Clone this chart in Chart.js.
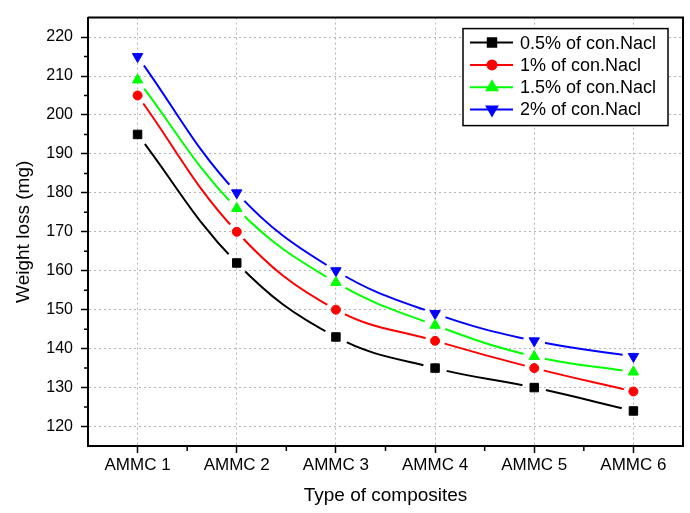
<!DOCTYPE html>
<html>
<head>
<meta charset="utf-8">
<script src="https://cdn.jsdelivr.net/npm/chart.js@4/dist/chart.umd.min.js"></script>
<style>
  html, body { margin: 0; padding: 0; background: #fff; }
  #wrap { width: 690px; height: 513px; position: relative; }
</style>
</head>
<body>
<div id="wrap"><canvas id="weightChart"></canvas></div>
<script>
"use strict";
const FONT = "'Liberation Sans', Arial, sans-serif";

const categories = ["AMMC 1", "AMMC 2", "AMMC 3", "AMMC 4", "AMMC 5", "AMMC 6"];
const seriesLabels = [
  "0.5% of con.Nacl",
  "1% of con.Nacl",
  "1.5% of con.Nacl",
  "2% of con.Nacl",
];
const nacl05 = [195, 162, 143, 135, 130, 124];
const nacl1 = [205, 170, 150, 142, 135, 129];
const nacl15 = [209, 176, 157, 146, 138, 134];
const nacl2 = [215, 180, 160, 149, 142, 138];
const yTicks = [120, 130, 140, 150, 160, 170, 180, 190, 200, 210, 220];
const yMinorTicks = [125, 135, 145, 155, 165, 175, 185, 195, 205, 215];

const colors = ["#000000", "#ff0000", "#00ff00", "#0000ff"];
const markers = [
  { style: "rect", radius: 6, rotation: 0, gap: 12 },
  { style: "circle", radius: 4.5, rotation: 0, gap: 10 },
  { style: "triangle", radius: 6, rotation: 0, gap: 11 },
  { style: "triangle", radius: 6, rotation: 180, gap: 11 },
];
const allSeries = [nacl05, nacl1, nacl15, nacl2];

// points first so they sit on top of the lines
const datasets = [];
allSeries.forEach((data, i) => {
  datasets.push({
    label: seriesLabels[i],
    data: data,
    showLine: false,
    pointStyle: markers[i].style,
    pointRadius: markers[i].radius,
    pointRotation: markers[i].rotation,
    pointBackgroundColor: colors[i],
    pointBorderColor: colors[i],
    pointBorderWidth: 1,
  });
});
allSeries.forEach((data, i) => {
  datasets.push({
    label: seriesLabels[i] + " line",
    data: data,
    borderColor: colors[i],
    borderWidth: 2,
    tension: 0.4,
    pointRadius: 0,
    pointHoverRadius: 0,
    fill: false,
    gapRadius: markers[i].gap,
  });
});

// Origin-style break in the line around each marker
const lineGaps = {
  id: "lineGaps",
  beforeDatasetDraw(chart, args) {
    const ds = chart.data.datasets[args.index];
    if (!ds.gapRadius) return;
    const ctx = chart.ctx;
    ctx.save();
    ctx.beginPath();
    ctx.rect(0, 0, chart.width, chart.height);
    args.meta.data.forEach((pt) => {
      ctx.moveTo(pt.x + ds.gapRadius, pt.y);
      ctx.arc(pt.x, pt.y, ds.gapRadius, 0, Math.PI * 2);
    });
    ctx.clip("evenodd");
  },
  afterDatasetDraw(chart, args) {
    const ds = chart.data.datasets[args.index];
    if (!ds.gapRadius) return;
    chart.ctx.restore();
  },
};

const frameAndLegend = {
  id: "frameAndLegend",
  afterDraw(chart) {
    const ctx = chart.ctx;
    const area = chart.chartArea;
    const xs = chart.scales.x;
    const ys = chart.scales.y;
    ctx.save();
    // top / right frame
    ctx.strokeStyle = "#000";
    ctx.lineWidth = 2;
    ctx.beginPath();
    ctx.moveTo(area.left, area.top);
    ctx.lineTo(area.right, area.top);
    ctx.lineTo(area.right, area.bottom);
    ctx.stroke();

    // minor ticks
    ctx.lineWidth = 1.5;
    ctx.beginPath();
    yMinorTicks.forEach((v) => {
      const y = ys.getPixelForValue(v);
      ctx.moveTo(area.left, y);
      ctx.lineTo(area.left - 4, y);
    });
    for (let i = 0; i < categories.length - 1; i++) {
      const x = xs.getPixelForValue(i + 0.5);
      ctx.moveTo(x, area.bottom);
      ctx.lineTo(x, area.bottom + 5);
    }
    ctx.stroke();

    // legend box
    const bw = 205;
    const bh = 97;
    const bx = area.right - 15 - bw;
    const by = area.top + 11;
    ctx.fillStyle = "#fff";
    ctx.fillRect(bx, by, bw, bh);
    ctx.strokeStyle = "#000";
    ctx.lineWidth = 1.5;
    ctx.strokeRect(bx, by, bw, bh);
    ctx.font = "18px " + FONT;
    ctx.textBaseline = "middle";
    ctx.textAlign = "left";
    seriesLabels.forEach((label, i) => {
      const y = by + 14 + i * 22.3;
      ctx.strokeStyle = colors[i];
      ctx.fillStyle = colors[i];
      ctx.lineWidth = 2;
      ctx.beginPath();
      ctx.moveTo(bx + 7, y);
      ctx.lineTo(bx + 50, y);
      ctx.stroke();
      Chart.helpers.drawPoint(
        ctx,
        {
          pointStyle: markers[i].style,
          rotation: markers[i].rotation,
          radius: markers[i].radius,
          borderWidth: 1,
        },
        bx + 29,
        y
      );
      ctx.fillStyle = "#000";
      ctx.fillText(label, bx + 57, y + 1);
    });
    ctx.restore();
  },
};

const ctx = document.getElementById("weightChart").getContext("2d");
const myChart = new Chart(ctx, {
  type: "line",
  data: {
    labels: categories,
    datasets: datasets,
  },
  options: {
    responsive: true,
    maintainAspectRatio: false,
    animation: false,
    events: [],
    layout: {
      padding: { top: 8, right: 7, left: 0, bottom: 0 },
    },
    plugins: {
      legend: { display: false },
      tooltip: { enabled: false },
    },
    scales: {
      x: {
        type: "category",
        offset: true,
        grid: {
          offset: false,
          color: "#b4b4b4",
          lineWidth: 1,
          drawTicks: true,
          tickLength: 7,
          tickColor: "#000",
          tickWidth: 1.5,
        },
        border: { display: true, color: "#000", width: 2, dash: [2, 3] },
        ticks: {
          color: "#000",
          font: { family: FONT, size: 17 },
          padding: 2,
          maxRotation: 0,
        },
        title: {
          display: true,
          text: "Type of composites",
          color: "#000",
          font: { family: FONT, size: 19 },
          padding: { top: 0, bottom: 6 },
        },
        afterFit(scale) {
          scale.height = 67;
        },
      },
      y: {
        min: 115,
        max: 225,
        afterBuildTicks(scale) {
          scale.ticks = yTicks.map((v) => ({ value: v }));
        },
        grid: {
          color: "#b4b4b4",
          lineWidth: 1,
          drawTicks: true,
          tickLength: 7,
          tickColor: "#000",
          tickWidth: 1.5,
        },
        border: { display: true, color: "#000", width: 2, dash: [2, 3] },
        ticks: {
          color: "#000",
          font: { family: FONT, size: 16 },
          padding: 8,
        },
        title: {
          display: true,
          text: "Weight loss (mg)",
          color: "#000",
          font: { family: FONT, size: 19 },
          padding: { top: 12, bottom: 0 },
        },
        afterFit(scale) {
          scale.width = 88;
        },
      },
    },
  },
  plugins: [lineGaps, frameAndLegend],
});
</script>
</body>
</html>
